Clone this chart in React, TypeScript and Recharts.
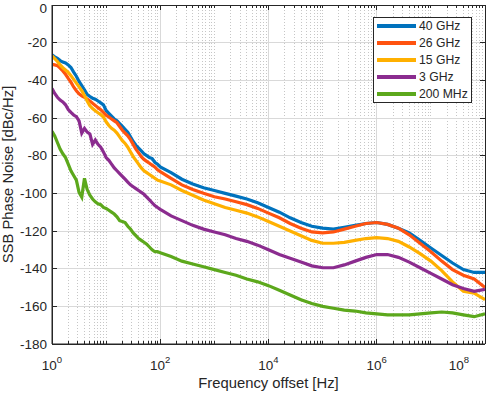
import React from "react";
import { LineChart, Line, XAxis, YAxis, Legend, ReferenceLine } from "recharts";

const FONT = "'Liberation Sans', Arial, Helvetica, sans-serif";
const INK = "#262626";

// log10 of the offset frequency, one entry per sample
const FREQ_EXP = [
  0, 0.05, 0.1, 0.15, 0.2, 0.25, 0.3, 0.35, 0.4, 0.45, 0.5, 0.55, 0.6, 0.65, 0.7, 0.75, 0.8, 0.85, 0.9, 0.95, 1.0,
  1.05, 1.1, 1.15, 1.2, 1.25, 1.3, 1.35, 1.4, 1.45, 1.5, 1.55, 1.6, 1.65, 1.7, 1.75, 1.8, 1.85, 1.9, 1.95, 2.0,
  2.2, 2.4, 2.6, 2.8, 3.0, 3.2, 3.4, 3.6, 3.8, 4.0, 4.2, 4.4, 4.6, 4.8, 5.0,
  5.2, 5.4, 5.6, 5.8, 6.0, 6.2, 6.4, 6.6, 6.8, 7.0, 7.2, 7.4, 7.6, 7.8, 8.0,
];

const PN_40G = [
  -26.5, -27.5, -28.3, -29.5, -30.3, -30.8, -31.8, -33.2, -35.6, -37.8, -40.6, -42.8, -45, -47.5, -48.6, -49.5, -50, -51, -52, -53, -56,
  -57.5, -59, -60.5, -61.5, -63, -64.5, -66, -67.5, -70, -72.5, -74.5, -76, -77.5, -79, -80, -81, -81.5, -83.5, -84.5, -86,
  -89, -92.5, -95, -97, -98.5, -100, -101.5, -103, -105, -107.5, -110, -113, -115.5, -117.5, -118.5,
  -119, -118, -117, -116, -115.5, -116.5, -118.5, -121, -125, -129, -133, -137, -140.5, -142, -142,
];

const PN_26G = [
  -31.5, -31.8, -32.2, -33.5, -35, -36.8, -39, -41, -43.5, -45.5, -47.2, -48.2, -49, -50, -51, -52.2, -53.3, -54.5, -55.6, -57, -58.5,
  -59.5, -60.5, -61.5, -62.5, -64.5, -66.5, -68, -69.5, -71.5, -74, -76.5, -78.5, -80.5, -82, -83, -84, -85, -86, -87.5, -88.5,
  -92, -95.5, -98, -100, -101.8, -103, -104.5, -106, -108, -110.5, -113, -116, -118.5, -120.5, -121,
  -120.5, -119, -117.5, -116, -115.5, -116.5, -118.5, -122, -126.5, -131, -136, -140.5, -143.5, -145.5, -150,
];

const PN_15G = [
  -27, -28.5, -30, -31.8, -33.3, -34.5, -35.8, -37.5, -39.5, -41.5, -43.5, -45.5, -48, -51, -53.5, -55, -56.2, -57.2, -58.2, -59.5, -62,
  -64, -65.5, -66.5, -68, -70, -72, -73.5, -75.5, -78, -80.5, -82.5, -84.5, -86.5, -88, -89, -90, -91, -92, -93, -93.5,
  -95.5, -98.5, -101, -103.5, -105.5, -107.5, -109, -110.5, -112.5, -115, -117.5, -120, -122.5, -125, -126.5,
  -126.5, -126, -125, -124, -123.5, -124, -125.5, -128.5, -132, -136, -141, -147, -152, -153, -156.5,
];

const PN_3G = [
  -44.3, -47, -49, -50.5, -51.5, -53, -55.5, -57, -58.4, -59.3, -61.5, -68, -65.5, -67.5, -68.5, -74, -71.7, -74, -75.5, -78, -81,
  -82.5, -84.5, -86.5, -88, -89.5, -91, -92.5, -94, -95.5, -96.5, -97.5, -98.5, -99.5, -100.5, -102, -103.5, -105, -106.5, -107.5, -108.5,
  -112, -114.5, -117, -119, -120.5, -122, -124, -125.5, -127.5, -130, -132.5, -134.5, -136.5, -138.5, -139.5,
  -139.5, -138, -136, -134, -132.5, -132.5, -134, -136.5, -139.5, -142.5, -145.5, -148.5, -150.5, -152, -151,
];

const PN_200M = [
  -67, -69.5, -73, -76.5, -79, -81, -84.5, -88, -90.5, -93, -99.5, -102, -92, -98, -101, -103, -104.5, -105.5, -106, -107.5, -108,
  -109, -110, -111, -112.5, -114.5, -115, -115.5, -117.5, -119, -121, -122.5, -124, -125, -126, -127, -128.5, -130, -131, -131, -131.5,
  -133.5, -136, -137.5, -139, -140.5, -142, -143.5, -145.5, -147, -149, -151.5, -154, -156.5, -158.5, -160,
  -161, -162, -162.5, -163.5, -164, -164.5, -164.5, -164.5, -164, -163.5, -163, -163.5, -164.5, -165.5, -164,
];

const SERIES = [
  { key: "g40", name: "40 GHz", color: "#0072BD", values: PN_40G },
  { key: "g26", name: "26 GHz", color: "#FF5310", values: PN_26G },
  { key: "g15", name: "15 GHz", color: "#FFB000", values: PN_15G },
  { key: "g3", name: "3 GHz", color: "#8B2C8F", values: PN_3G },
  { key: "m200", name: "200 MHz", color: "#5CA81C", values: PN_200M },
];

const X_TICKS = [1, 1e2, 1e4, 1e6, 1e8];
const Y_TICKS = [-180, -160, -140, -120, -100, -80, -60, -40, -20, 0];
const X_MIN = 1;
const X_MAX = 1e8;
const Y_MIN = -180;
const Y_MAX = 0;

// log minor grid: 2..9 in every decade plus the odd decades
const MINOR_X: number[] = [];
for (let d = 0; d < 8; d++) {
  if (d % 2 === 1) MINOR_X.push(10 ** d);
  for (let k = 2; k <= 9; k++) MINOR_X.push(k * 10 ** d);
}

// inward tick lengths, in axis units (about 5px / 3px on this plot)
const Y_TICK_LEN = 2.6;
const Y_MINOR_LEN = 1.6;
const X_TICK_FACTOR = 10 ** 0.092;

const data = FREQ_EXP.map((e, i) => {
  const row: Record<string, number> = { f: 10 ** e };
  SERIES.forEach((s) => (row[s.key] = s.values[i]));
  return row;
});

function PowTick(props: any) {
  const { x, y, payload } = props;
  const p = Math.round(Math.log10(payload.value));
  return (
    <text x={x} y={y + 24} textAnchor="middle" fill={INK} fontSize={13.5} fontFamily={FONT}>
      <tspan>10</tspan>
      <tspan dy={-7} fontSize={9.5}>{p}</tspan>
    </text>
  );
}

function YLabel() {
  return (
    <text
      transform="translate(13,174.5) rotate(-90)"
      textAnchor="middle"
      fill={INK}
      fontSize={14.8}
      fontFamily={FONT}
    >
      SSB Phase Noise [dBc/Hz]
    </text>
  );
}

function LegendBox() {
  return (
    <div
      style={{
        boxSizing: "border-box",
        width: 99,
        height: 86,
        border: `1px solid ${INK}`,
        background: "#fff",
        padding: "0 0 0 3px",
        fontFamily: FONT,
        fontSize: 12.2,
        color: INK,
      }}
    >
      {SERIES.map((s) => (
        <div key={s.key} style={{ display: "flex", alignItems: "center", height: 16.8 }}>
          <span style={{ display: "inline-block", width: 39, height: 4, background: s.color, marginRight: 3 }} />
          <span>{s.name}</span>
        </div>
      ))}
    </div>
  );
}

const crisp = { shapeRendering: "crispEdges" } as any;

export default function App() {
  return (
    <div style={{ position: "absolute", left: 0, top: 0, width: 495, height: 393, background: "#fff" }}>
      <LineChart
        width={495}
        height={393}
        data={data}
        margin={{ top: 5, right: 10, bottom: 0, left: 0 }}
        style={{ fontFamily: FONT }}
      >
        {MINOR_X.map((v) => (
          <ReferenceLine key={"m" + v} x={v} stroke="#c6c6c6" strokeDasharray="1 2" {...crisp} />
        ))}
        {X_TICKS.map((v) => (
          <ReferenceLine key={"M" + v} x={v} stroke="#d9d9d9" {...crisp} />
        ))}
        {Y_TICKS.map((v) => (
          <ReferenceLine key={"H" + v} y={v} stroke="#d9d9d9" {...crisp} />
        ))}

        <XAxis
          dataKey="f"
          type="number"
          scale="log"
          domain={[X_MIN, X_MAX]}
          allowDataOverflow
          ticks={X_TICKS}
          tick={<PowTick />}
          tickLine={false}
          tickSize={0}
          height={49}
          axisLine={{ stroke: INK }}
          label={{ value: "Frequency offset [Hz]", position: "insideBottom", offset: 5, fill: INK, fontSize: 14.8 }}
        />
        <YAxis
          type="number"
          domain={[Y_MIN, Y_MAX]}
          ticks={Y_TICKS}
          width={52}
          tickLine={false}
          tickSize={0}
          tickMargin={5}
          axisLine={{ stroke: INK }}
          tick={{ fill: INK, fontSize: 13.5 }}
          label={{ content: () => <YLabel /> }}
        />

        {SERIES.map((s) => (
          <Line
            key={s.key}
            dataKey={s.key}
            name={s.name}
            type="linear"
            stroke={s.color}
            strokeWidth={3.2}
            dot={false}
            activeDot={false}
            isAnimationActive={false}
          />
        ))}

        {/* box and inward tick marks */}
        <ReferenceLine y={Y_MAX} stroke={INK} {...crisp} />
        <ReferenceLine x={X_MAX} stroke={INK} {...crisp} />
        <ReferenceLine y={Y_MIN} stroke={INK} {...crisp} />
        <ReferenceLine x={X_MIN} stroke={INK} {...crisp} />
        {X_TICKS.flatMap((v) => [
          <ReferenceLine key={"tb" + v} segment={[{ x: v, y: Y_MIN }, { x: v, y: Y_MIN + Y_TICK_LEN }]} stroke={INK} {...crisp} />,
          <ReferenceLine key={"tt" + v} segment={[{ x: v, y: Y_MAX }, { x: v, y: Y_MAX - Y_TICK_LEN }]} stroke={INK} {...crisp} />,
        ])}
        {MINOR_X.flatMap((v) => [
          <ReferenceLine key={"mb" + v} segment={[{ x: v, y: Y_MIN }, { x: v, y: Y_MIN + Y_MINOR_LEN }]} stroke={INK} {...crisp} />,
          <ReferenceLine key={"mt" + v} segment={[{ x: v, y: Y_MAX }, { x: v, y: Y_MAX - Y_MINOR_LEN }]} stroke={INK} {...crisp} />,
        ])}
        {Y_TICKS.flatMap((v) => [
          <ReferenceLine key={"tl" + v} segment={[{ x: X_MIN, y: v }, { x: X_MIN * X_TICK_FACTOR, y: v }]} stroke={INK} {...crisp} />,
          <ReferenceLine key={"tr" + v} segment={[{ x: X_MAX / X_TICK_FACTOR, y: v }, { x: X_MAX, y: v }]} stroke={INK} {...crisp} />,
        ])}

        <Legend
          layout="vertical"
          align="center"
          verticalAlign="middle"
          content={<LegendBox />}
          wrapperStyle={{ top: 17, left: 373, width: 99, height: 86 }}
        />
      </LineChart>
    </div>
  );
}
